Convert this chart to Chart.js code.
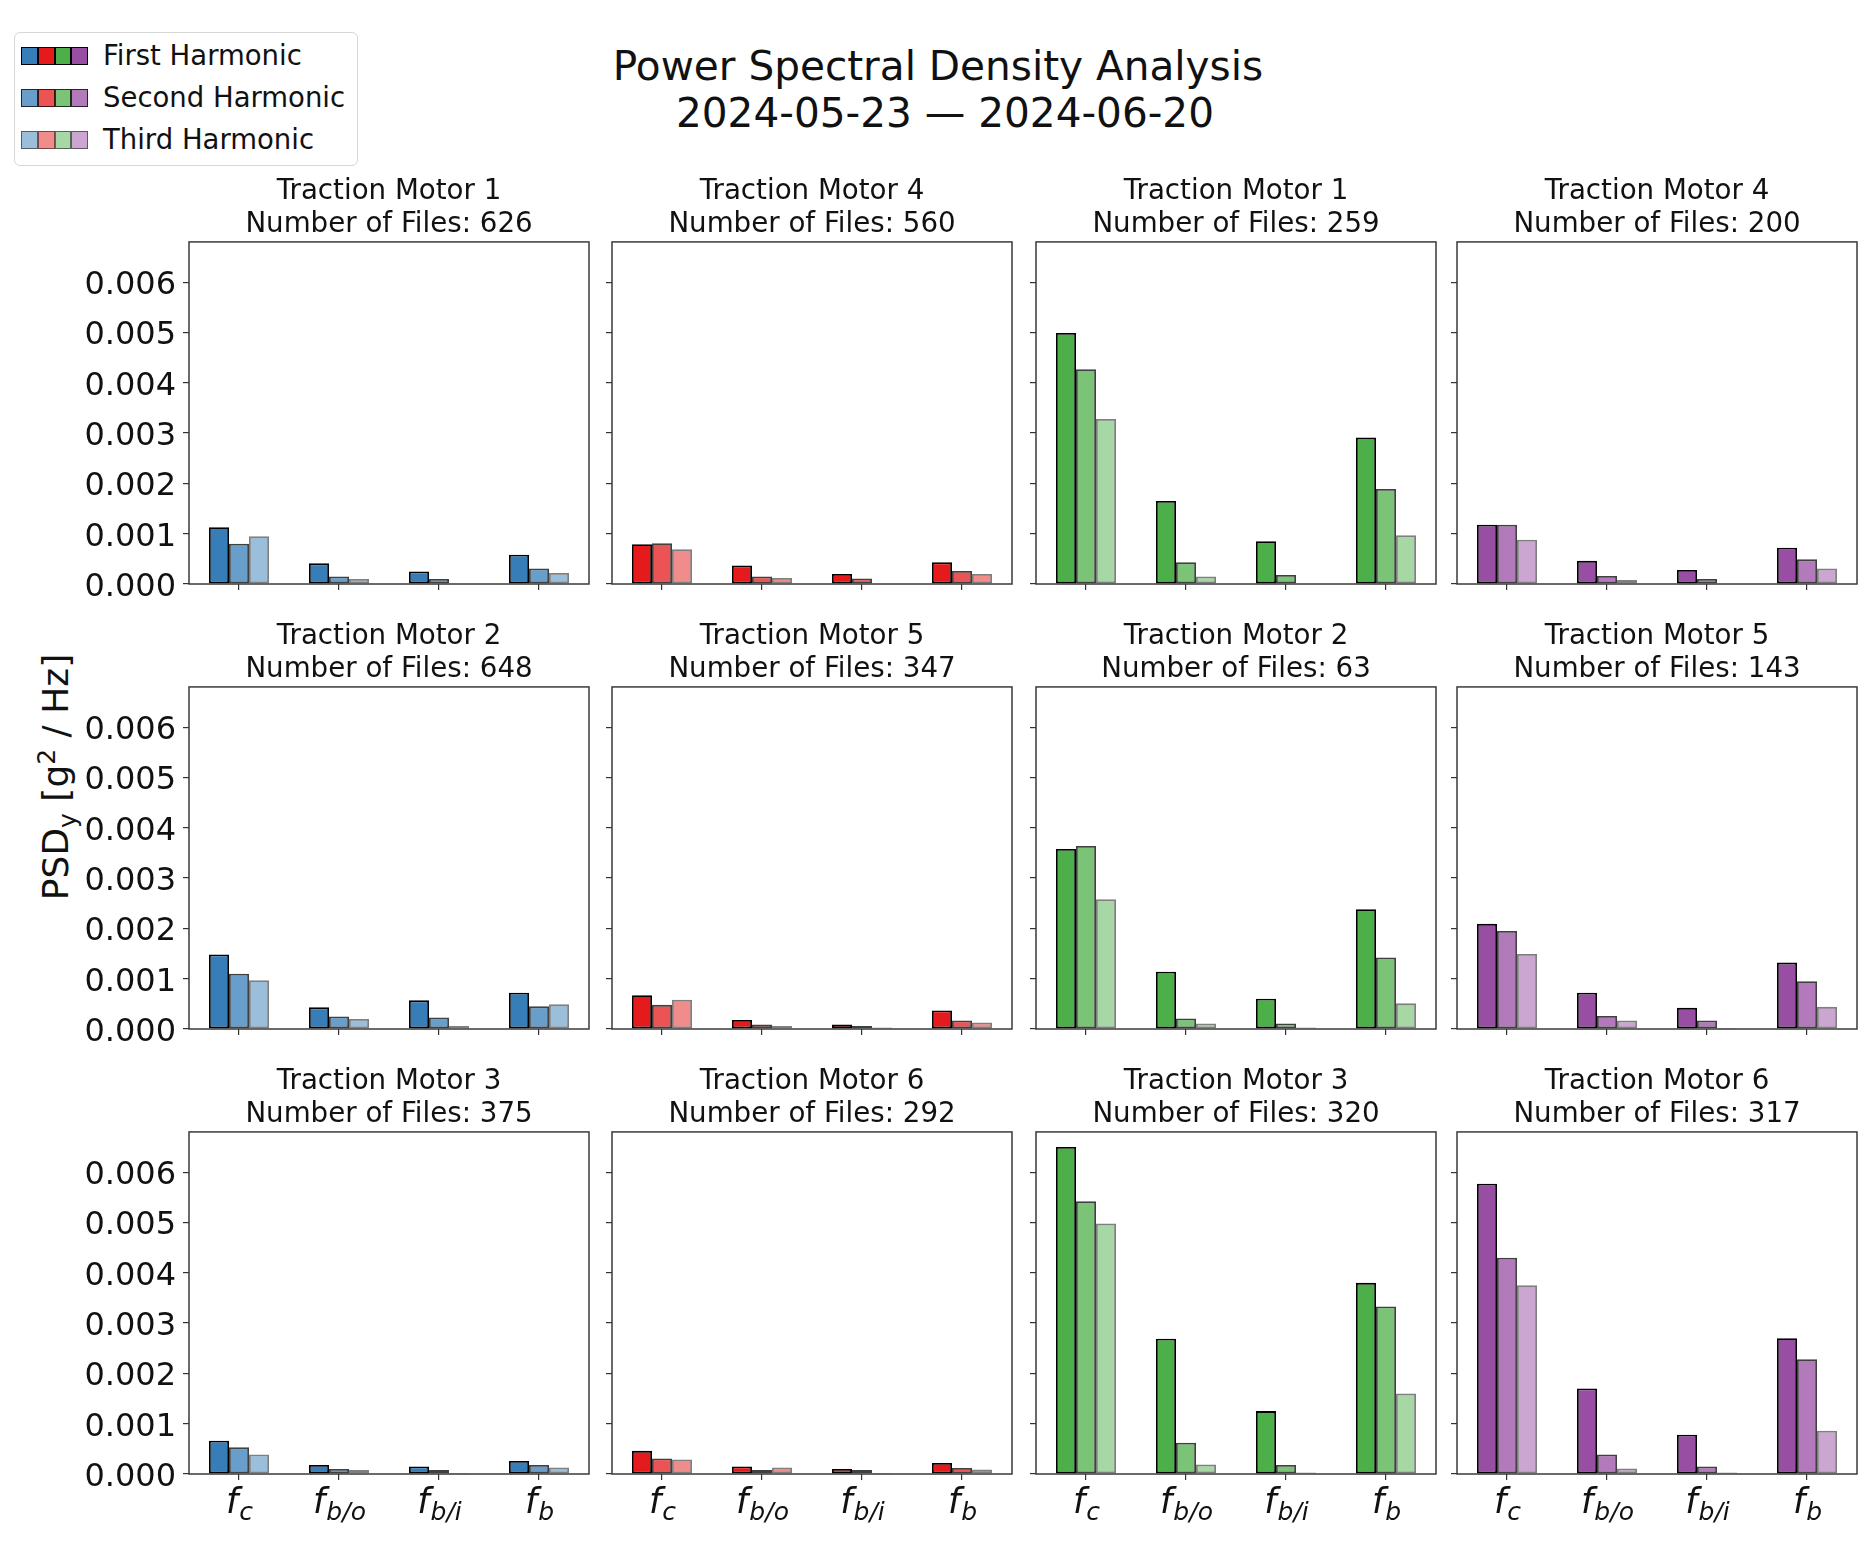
<!DOCTYPE html>
<html lang="en">
<head>
<meta charset="utf-8" />
<title>Power Spectral Density Analysis</title>
<script src="https://cdn.jsdelivr.net/npm/chart.js"></script>
<style>
    body { margin: 0; background: #fff; font-family: 'DejaVu Sans', sans-serif; color: #111; }
    #page { position: relative; width: 1872px; height: 1554px; overflow: hidden; }
    #page canvas { position: absolute; }
    #suptitle { position: absolute; left: 0; top: 43px; width: 1876px; text-align: center; font-size: 40.6px; line-height: 47px; }
    #suptitle span { position: relative; left: 7px; }
    #ylabel { position: absolute; left: 56px; top: 777px; transform: translate(-50%, -50%) rotate(-90deg); font-size: 36px; white-space: nowrap; line-height: 42px; }
    #ylabel sub, #ylabel sup { font-size: 25px; line-height: 0; }
    #legend { position: absolute; left: 14px; top: 32px; width: 342px; height: 132px; border: 1px solid #d6d6d6; border-radius: 6px; background: rgba(255,255,255,0.8); }
    .lrow { position: absolute; left: 6px; height: 18px; display: flex; align-items: center; }
    .lhandle { display: flex; width: 67px; height: 18px; }
    .lhandle span { flex: 1; box-sizing: border-box; }
    .ltext { position: absolute; left: 82px; top: -10px; font-size: 27.5px; line-height: 36px; white-space: nowrap; }
</style>
</head>
<body>
<div id="page">
    <div id="suptitle">Power Spectral Density Analysis<br><span>2024-05-23 — 2024-06-20</span></div>
    <div id="ylabel">PSD<sub>y</sub> [g<sup>2</sup> / Hz]</div>
    <div id="legend"></div>
</div>
<script>
    const harmonicNames = ['First Harmonic', 'Second Harmonic', 'Third Harmonic'];
    const harmonicAlpha = [1, 0.75, 0.5];
    const freqSubscripts = ['c', 'b/o', 'b/i', 'b'];
    const columnColors = ['55,126,184', '228,26,28', '77,175,74', '152,78,163'];
    const yTicks = [0, 0.001, 0.002, 0.003, 0.004, 0.005, 0.006];
    const yMax = 0.0068;

    // panels row by row, left to right
    const panelMotors = [1, 4, 1, 4, 2, 5, 2, 5, 3, 6, 3, 6];
    const panelFiles = [626, 560, 259, 200, 648, 347, 63, 143, 375, 292, 320, 317];

    // each: [first, second, third harmonic] over fc, fb/o, fb/i, fb
    const psdBlueTM1 = [[0.00113, 0.00041, 0.00025, 0.00058], [0.00080, 0.00015, 0.00010, 0.00031], [0.00095, 0.00010, 0.00001, 0.00022]];
    const psdRedTM4 = [[0.00079, 0.00037, 0.00020, 0.00043], [0.00081, 0.00015, 0.00011, 0.00026], [0.00069, 0.00012, 0.00001, 0.00020]];
    const psdGreenTM1 = [[0.00499, 0.00165, 0.00085, 0.00291], [0.00427, 0.00043, 0.00018, 0.00189], [0.00328, 0.00015, 0.00001, 0.00097]];
    const psdPurpleTM4 = [[0.00118, 0.00046, 0.00028, 0.00072], [0.00118, 0.00016, 0.00010, 0.00049], [0.00088, 0.00008, 0.00001, 0.00031]];
    const psdBlueTM2 = [[0.00148, 0.00043, 0.00057, 0.00072], [0.00110, 0.00025, 0.00023, 0.00045], [0.00097, 0.00020, 0.00006, 0.00049]];
    const psdRedTM5 = [[0.00067, 0.00018, 0.00009, 0.00037], [0.00048, 0.00009, 0.00006, 0.00017], [0.00058, 0.00006, 0.00003, 0.00013]];
    const psdGreenTM2 = [[0.00358, 0.00114, 0.00060, 0.00238], [0.00364, 0.00021, 0.00011, 0.00142], [0.00258, 0.00011, 0.00003, 0.00051]];
    const psdPurpleTM5 = [[0.00209, 0.00072, 0.00042, 0.00132], [0.00195, 0.00026, 0.00017, 0.00095], [0.00149, 0.00017, 0.00002, 0.00044]];
    const psdBlueTM3 = [[0.00066, 0.00018, 0.00015, 0.00026], [0.00053, 0.00010, 0.00008, 0.00018], [0.00039, 0.00008, 0.00002, 0.00013]];
    const psdRedTM6 = [[0.00046, 0.00015, 0.00010, 0.00022], [0.00031, 0.00008, 0.00008, 0.00012], [0.00029, 0.00013, 0.00002, 0.00009]];
    const psdGreenTM3 = [[0.00650, 0.00269, 0.00125, 0.00380], [0.00542, 0.00062, 0.00018, 0.00333], [0.00498, 0.00019, 0.00003, 0.00160]];
    const psdPurpleTM6 = [[0.00577, 0.00170, 0.00078, 0.00270], [0.00430, 0.00039, 0.00015, 0.00228], [0.00375, 0.00011, 0.00003, 0.00086]];

    const panelData = [
        psdBlueTM1, psdRedTM4, psdGreenTM1, psdPurpleTM4,
        psdBlueTM2, psdRedTM5, psdGreenTM2, psdPurpleTM5,
        psdBlueTM3, psdRedTM6, psdGreenTM3, psdPurpleTM6
    ];

    // layout of the grid
    const panelLeft = [189, 612, 1036, 1457];
    const panelTop = [242, 687, 1132];
    const panelW = 400, panelH = 342;
    const axisW = 110, titleH = 70, bottomH = 50, padR = 10;

    const FONT = 'DejaVu Sans';

    // legend
    const legend = document.getElementById('legend');
    harmonicNames.forEach((name, h) => {
        const row = document.createElement('div');
        row.className = 'lrow';
        row.style.top = (13.5 + h * 42) + 'px';
        const handle = document.createElement('div');
        handle.className = 'lhandle';
        columnColors.forEach(rgb => {
            const s = document.createElement('span');
            s.style.background = `rgba(${rgb},${harmonicAlpha[h]})`;
            s.style.border = `1.5px solid rgba(0,0,0,${harmonicAlpha[h]})`;
            handle.appendChild(s);
        });
        const txt = document.createElement('div');
        txt.className = 'ltext';
        txt.textContent = name;
        row.appendChild(handle);
        row.appendChild(txt);
        legend.appendChild(row);
    });

    // box round each panel plus the f-subscript tick labels on the bottom row
    const frameAndLabels = {
        id: 'frameAndLabels',
        afterDatasetsDraw(chart, args, opts) {
            const { ctx, chartArea: a } = chart;
            ctx.save();
            ctx.strokeStyle = '#3a3a3a';
            ctx.lineWidth = 1.5;
            ctx.strokeRect(a.left, a.top, a.right - a.left, a.bottom - a.top);
            if (opts.showX) {
                const xs = chart.scales.x;
                ctx.fillStyle = '#111';
                ctx.textBaseline = 'alphabetic';
                freqSubscripts.forEach((sub, i) => {
                    const x = xs.getPixelForValue(i);
                    ctx.font = `italic 35px "${FONT}"`;
                    const wf = ctx.measureText('f').width;
                    ctx.font = `italic 25px "${FONT}"`;
                    const ws = ctx.measureText(sub).width;
                    const x0 = x - (wf + ws) / 2;
                    const base = a.bottom + 39;
                    ctx.font = `italic 35px "${FONT}"`;
                    ctx.fillText('f', x0, base);
                    ctx.font = `italic 25px "${FONT}"`;
                    ctx.fillText(sub, x0 + wf + 1, base + 7);
                });
            }
            ctx.restore();
        }
    };

    const page = document.getElementById('page');

    panelData.forEach((values, p) => {
        const row = Math.floor(p / 4), col = p % 4;
        const rgb = columnColors[col];
        const cv = document.createElement('canvas');
        cv.width = axisW + panelW + padR;
        cv.height = titleH + panelH + bottomH;
        cv.style.left = (panelLeft[col] - axisW) + 'px';
        cv.style.top = (panelTop[row] - titleH) + 'px';
        page.appendChild(cv);

        new Chart(cv, {
            type: 'bar',
            data: {
                labels: freqSubscripts.map(s => 'f_' + s),
                datasets: harmonicNames.map((name, h) => ({
                    label: name,
                    data: values[h],
                    backgroundColor: `rgba(${rgb},${harmonicAlpha[h]})`,
                    borderColor: `rgba(0,0,0,${harmonicAlpha[h]})`,
                    borderWidth: 1.8,
                    borderSkipped: false,
                    categoryPercentage: 0.6,
                    barPercentage: 1.0
                }))
            },
            options: {
                responsive: false,
                animation: false,
                devicePixelRatio: 1,
                layout: { padding: { top: 0, right: padR, bottom: 0, left: 0 } },
                plugins: {
                    legend: { display: false },
                    tooltip: { enabled: false },
                    title: {
                        display: true,
                        fullSize: false,
                        text: [`Traction Motor ${panelMotors[p]}`, `Number of Files: ${panelFiles[p]}`],
                        color: '#111',
                        font: { family: FONT, size: 27.7, weight: 'normal', lineHeight: 1.19 },
                        padding: { top: 3.8, bottom: 0.2 }
                    },
                    frameAndLabels: { showX: row === 2 }
                },
                scales: {
                    x: {
                        offset: true,
                        grid: { offset: false, drawOnChartArea: false, drawTicks: true, tickLength: 6, color: '#333', lineWidth: 1.2 },
                        border: { display: false },
                        ticks: { display: false },
                        afterFit: s => { s.height = bottomH; }
                    },
                    y: {
                        min: 0,
                        max: yMax,
                        afterBuildTicks: s => { s.ticks = yTicks.map(v => ({ value: v })); },
                        grid: { drawOnChartArea: false, drawTicks: true, tickLength: 6, color: '#333', lineWidth: 1.2 },
                        border: { display: false },
                        ticks: {
                            display: col === 0,
                            padding: 7,
                            labelOffset: 3.5,
                            color: '#111',
                            font: { family: FONT, size: 32 },
                            callback: v => Number(v).toFixed(3)
                        },
                        afterFit: s => { s.width = axisW; }
                    }
                }
            },
            plugins: [frameAndLabels]
        });
    });
</script>
</body>
</html>
